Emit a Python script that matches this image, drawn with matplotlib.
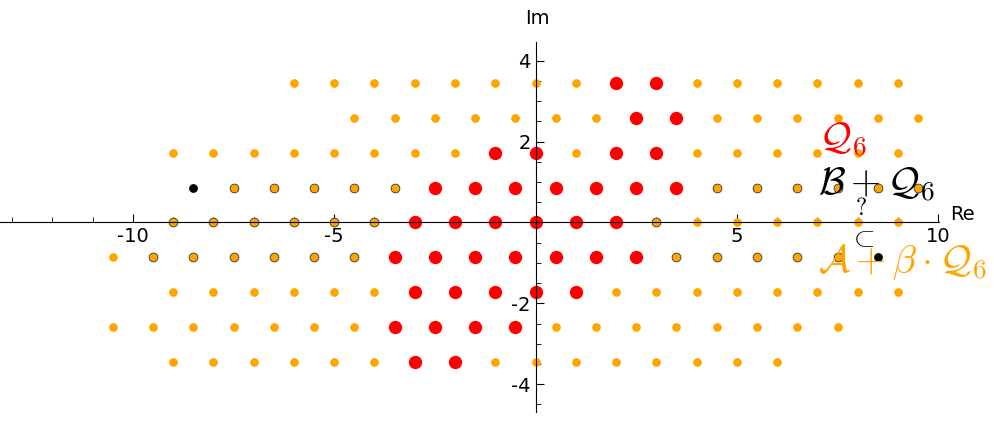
import matplotlib
matplotlib.use("Agg")
import matplotlib.pyplot as plt
from matplotlib.ticker import FixedLocator, MultipleLocator

plt.rcParams["mathtext.fontset"] = "cm"
plt.rcParams["axes.unicode_minus"] = False

# imaginary parts of the lattice rows
row_im = [3.464, 2.598, 1.732, 0.866, 0.0, -0.866, -1.732, -2.598, -3.464]

# real parts per row (same order as row_im)
plain_re = [
    [-6, -5, -4, -3, -2, -1, 0, 1, 4, 5, 6, 7, 8, 9],
    [-4.5, -3.5, -2.5, -1.5, -0.5, 0.5, 1.5, 4.5, 5.5, 6.5, 7.5, 8.5, 9.5],
    [-9, -8, -7, -6, -5, -4, -3, -2, 1, 4, 5, 6, 7, 8, 9],
    [],
    [4, 5, 6, 7, 8, 9],
    [-10.5],
    [-9, -8, -7, -6, -5, -4, 2, 3, 4, 5, 6, 7, 8, 9],
    [-10.5, -9.5, -8.5, -7.5, -6.5, -5.5, -4.5, 0.5, 1.5, 2.5, 3.5, 4.5, 5.5, 6.5, 7.5],
    [-9, -8, -7, -6, -5, -4, -1, 0, 1, 2, 3, 4, 5, 6],
]
edged_re = [
    [], [], [],
    [-7.5, -6.5, -5.5, -4.5, -3.5, 4.5, 5.5, 6.5, 7.5, 8.5, 9.5],
    [-9, -8, -7, -6, -5, -4, 3],
    [-9.5, -8.5, -7.5, -6.5, -5.5, -4.5, 3.5, 4.5, 5.5, 6.5, 7.5],
    [], [], [],
]
q6_re = [
    [2, 3],
    [2.5, 3.5],
    [-1, 0, 2, 3],
    [-2.5, -1.5, -0.5, 0.5, 1.5, 2.5, 3.5],
    [-3, -2, -1, 0, 1, 2],
    [-3.5, -2.5, -1.5, -0.5, 0.5, 1.5, 2.5],
    [-3, -2, -1, 0, 1],
    [-3.5, -2.5, -1.5, -0.5],
    [-3, -2],
]
black_re = [-8.5, 8.5]
black_im = [0.866, -0.866]


def flatten(rows):
    xs, ys = [], []
    for im, res in zip(row_im, rows):
        for re in res:
            xs.append(re)
            ys.append(im)
    return xs, ys


ORANGE = "#FFA500"
fig = plt.figure(figsize=(9.94, 4.22), dpi=100)
ax = fig.add_axes([0.0, 0.0244, 0.9447, 0.8768])

px, py = flatten(plain_re)
ax.scatter(px, py, s=39, c=ORANGE, linewidths=0, zorder=2)
ex, ey = flatten(edged_re)
ax.scatter(ex, ey, s=40, c=ORANGE, edgecolors="#333333", linewidths=0.6, zorder=2)
rx, ry = flatten(q6_re)
ax.scatter(rx, ry, s=92, c="red", linewidths=0, zorder=2)
ax.scatter(black_re, black_im, s=40, c="black", linewidths=0, zorder=2)

ax.set_xlim(-13.30, 10.02)
ax.set_ylim(-4.683, 4.475)

for side in ("top", "right"):
    ax.spines[side].set_visible(False)
ax.spines["left"].set_position("zero")
ax.spines["bottom"].set_position("zero")

ax.xaxis.set_major_locator(FixedLocator([-10, -5, 5, 10]))
ax.xaxis.set_minor_locator(MultipleLocator(1))
ax.yaxis.set_major_locator(FixedLocator([-4, -2, 2, 4]))
ax.yaxis.set_minor_locator(MultipleLocator(0.5))
ax.tick_params(which="both", direction="in", labelsize=14)
ax.tick_params(which="major", length=6)
ax.tick_params(which="minor", length=3.5)

ax.text(0.04, 5.06, "Im", fontsize=14, ha="center", va="center", clip_on=False)
ax.text(10.6, 0.19, "Re", fontsize=14, ha="center", va="center", clip_on=False)

ax.text(7.64, 2.04, r"$\mathcal{Q}_6$", color="red", fontsize=28,
        ha="center", va="center", zorder=5)
ax.text(7.02, 0.93, r"$\mathcal{B}+\mathcal{Q}_6$", color="black", fontsize=28,
        ha="left", va="center", zorder=5)
ax.text(8.07, 0.37, r"$?$", color="black", fontsize=17,
        ha="center", va="center", zorder=5)
ax.text(8.11, -0.38, r"$\subset$", color="black", fontsize=20,
        ha="center", va="center", zorder=5)
ax.text(7.02, -0.98, r"$\mathcal{A}+\beta\cdot\mathcal{Q}_6$", color=ORANGE,
        fontsize=28, ha="left", va="center", zorder=5, clip_on=False)

fig.savefig("out.png", dpi=100)
